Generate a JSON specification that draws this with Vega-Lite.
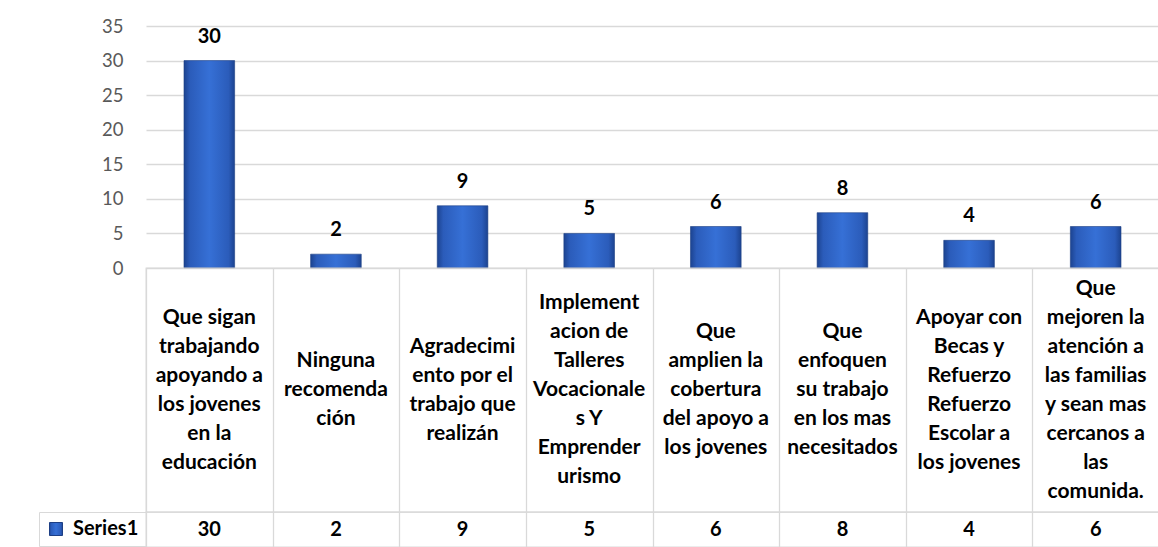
{
  "$schema": "https://vega.github.io/schema/vega-lite/v6.json",
  "padding": {"left": 38, "top": 17, "right": 0, "bottom": 0},
  "background": "white",
  "config": {"font": "Lato", "view": {"stroke": null}},
  "bounds": "flush",
  "spacing": 0,
  "data": {
    "values": [
      {"categoria": "Que sigan\ntrabajando\napoyando a\nlos jovenes\nen la\neducación", "valor": 30, "serie": "Series1"},
      {"categoria": "Ninguna\nrecomenda\nción", "valor": 2, "serie": "Series1"},
      {"categoria": "Agradecimi\nento por el\ntrabajo que\nrealizán", "valor": 9, "serie": "Series1"},
      {"categoria": "Implement\nacion de\nTalleres\nVocacionale\ns Y\nEmprender\nurismo", "valor": 5, "serie": "Series1"},
      {"categoria": "Que\namplien la\ncobertura\ndel apoyo a\nlos jovenes", "valor": 6, "serie": "Series1"},
      {"categoria": "Que\nenfoquen\nsu trabajo\nen los mas\nnecesitados", "valor": 8, "serie": "Series1"},
      {"categoria": "Apoyar con\nBecas y\nRefuerzo\nRefuerzo\nEscolar a\nlos jovenes", "valor": 4, "serie": "Series1"},
      {"categoria": "Que\nmejoren la\natención a\nlas familias\ny sean mas\ncercanos a\nlas\ncomunida.", "valor": 6, "serie": "Series1"}
    ]
  },
  "resolve": {"scale": {"x": "independent", "stroke": "independent"}, "legend": {"stroke": "independent"}},
  "vconcat": [
    {
      "width": 1013,
      "height": 242,
      "encoding": {
        "x": {"field": "categoria", "type": "nominal", "sort": null, "scale": {"paddingInner": 0.6, "paddingOuter": 0.3}, "axis": null},
        "y": {
          "field": "valor", "type": "quantitative",
          "scale": {"domain": [0, 35], "nice": false},
          "axis": {"values": [0, 5, 10, 15, 20, 25, 30, 35], "labelOverlap": false, "title": null, "domain": false, "ticks": false, "tickSize": 0, "labelFontSize": 18.5, "labelColor": "#595959", "labelPadding": 23, "gridColor": "#d9d9d9", "gridWidth": 1.3}
        }
      },
      "layer": [
        {
          "mark": {
            "type": "bar",
            "fill": {
              "gradient": "linear", "x1": 0, "x2": 1, "y1": 0, "y2": 0,
              "stops": [
                {"offset": 0, "color": "#1c4390"},
                {"offset": 0.12, "color": "#2b5cba"},
                {"offset": 0.5, "color": "#3670d6"},
                {"offset": 0.88, "color": "#2b5cba"},
                {"offset": 1, "color": "#1c4390"}
              ]
            },
            "strokeWidth": 0.6
          },
          "encoding": {
            "stroke": {
              "field": "serie", "type": "nominal",
              "scale": {"range": ["#1d3f85"]},
              "legend": {
                "title": null, "orient": "none", "legendX": -107, "legendY": 486, "padding": 7,
                "strokeColor": "#d9d9d9",
                "symbolType": "square", "symbolSize": 169, "symbolFillColor": "#3567cb", "symbolStrokeWidth": 1,
                "labelFontSize": 20, "labelFontWeight": "bold", "labelColor": "#000000", "labelOffset": 7
              }
            }
          }
        },
        {
          "mark": {"type": "text", "fontWeight": "bold", "fontSize": 20, "baseline": "alphabetic", "dy": -18, "color": "#000000"},
          "encoding": {
            "text": {"field": "valor", "type": "quantitative"}
          }
        }
      ]
    },
    {
      "width": 1013,
      "height": 244,
      "view": {"stroke": "#d9d9d9", "strokeWidth": 1.3},
      "encoding": {
        "x": {"field": "categoria", "type": "nominal",
          "scale": {"paddingInner": 0, "paddingOuter": 0, "domain": [
            "Que sigan\ntrabajando\napoyando a\nlos jovenes\nen la\neducación",
            "Ninguna\nrecomenda\nción",
            "Agradecimi\nento por el\ntrabajo que\nrealizán",
            "Implement\nacion de\nTalleres\nVocacionale\ns Y\nEmprender\nurismo",
            "Que\namplien la\ncobertura\ndel apoyo a\nlos jovenes",
            "Que\nenfoquen\nsu trabajo\nen los mas\nnecesitados",
            "Apoyar con\nBecas y\nRefuerzo\nRefuerzo\nEscolar a\nlos jovenes",
            "Que\nmejoren la\natención a\nlas familias\ny sean mas\ncercanos a\nlas\ncomunida."
          ]},
          "axis": {"orient": "top", "grid": true, "tickBand": "extent", "labels": false, "ticks": false, "domain": false, "title": null, "gridColor": "#d9d9d9", "gridWidth": 1.3}},
        "text": {"field": "categoria", "type": "nominal"}
      },
      "layer": [
        {
          "transform": [{"filter": {"field": "valor", "equal": 2}}],
          "mark": {"type": "text", "fontWeight": "bold", "fontSize": 21, "lineHeight": 29, "lineBreak": "\n", "baseline": "middle", "align": "center", "color": "#000000", "dy": -29}
        },
        {
          "transform": [{"filter": {"field": "valor", "equal": 9}}],
          "mark": {"type": "text", "fontWeight": "bold", "fontSize": 21, "lineHeight": 29, "lineBreak": "\n", "baseline": "middle", "align": "center", "color": "#000000", "dy": -43.5}
        },
        {
          "transform": [{"filter": {"field": "valor", "oneOf": [6, 8]}}, {"filter": {"not": {"field": "categoria", "equal": "Que\nmejoren la\natención a\nlas familias\ny sean mas\ncercanos a\nlas\ncomunida."}}}],
          "mark": {"type": "text", "fontWeight": "bold", "fontSize": 21, "lineHeight": 29, "lineBreak": "\n", "baseline": "middle", "align": "center", "color": "#000000", "dy": -58}
        },
        {
          "transform": [{"filter": {"field": "valor", "oneOf": [30, 4]}}],
          "mark": {"type": "text", "fontWeight": "bold", "fontSize": 21, "lineHeight": 29, "lineBreak": "\n", "baseline": "middle", "align": "center", "color": "#000000", "dy": -72.5}
        },
        {
          "transform": [{"filter": {"field": "valor", "equal": 5}}],
          "mark": {"type": "text", "fontWeight": "bold", "fontSize": 21, "lineHeight": 29, "lineBreak": "\n", "baseline": "middle", "align": "center", "color": "#000000", "dy": -87}
        },
        {
          "transform": [{"filter": {"field": "categoria", "equal": "Que\nmejoren la\natención a\nlas familias\ny sean mas\ncercanos a\nlas\ncomunida."}}],
          "mark": {"type": "text", "fontWeight": "bold", "fontSize": 21, "lineHeight": 29, "lineBreak": "\n", "baseline": "middle", "align": "center", "color": "#000000", "dy": -101.5}
        }
      ]
    },
    {
      "width": 1013,
      "height": 35,
      "view": {"stroke": "#d9d9d9", "strokeWidth": 1.3},
      "mark": {"type": "text", "fontWeight": "bold", "fontSize": 20, "baseline": "middle", "align": "center", "color": "#000000"},
      "encoding": {
        "x": {"field": "categoria", "type": "nominal", "sort": null, "scale": {"paddingInner": 0, "paddingOuter": 0},
          "axis": {"orient": "top", "grid": true, "tickBand": "extent", "labels": false, "ticks": false, "domain": false, "title": null, "gridColor": "#d9d9d9", "gridWidth": 1.3}},
        "text": {"field": "valor", "type": "quantitative"}
      }
    }
  ]
}
